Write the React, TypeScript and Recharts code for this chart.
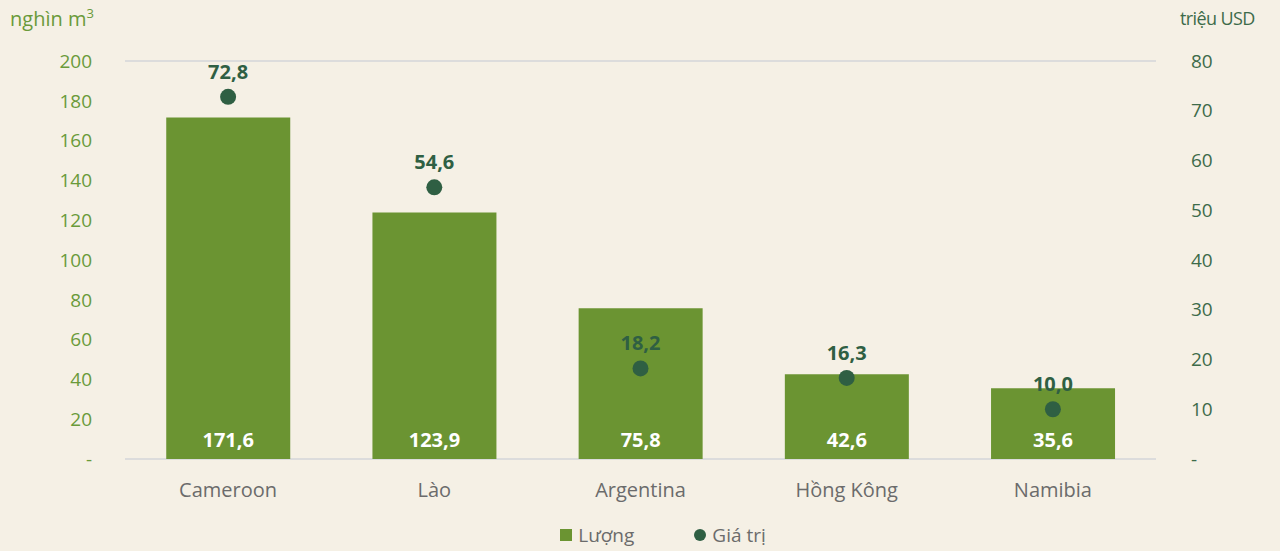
import React from 'react';
import { ComposedChart, Bar, Line, XAxis, YAxis, CartesianGrid, LabelList, Legend } from 'recharts';

const categories = ['Cameroon', 'Lào', 'Argentina', 'Hồng Kông', 'Namibia'];
const volume = [171.6, 123.9, 75.8, 42.6, 35.6];
const value = [72.8, 54.6, 18.2, 16.3, 10.0];
const leftTicks = [0, 20, 40, 60, 80, 100, 120, 140, 160, 180, 200];
const rightTicks = [0, 10, 20, 30, 40, 50, 60, 70, 80];

const data = categories.map((c, i) => ({ name: c, luong: volume[i], giatri: value[i] }));

const FONT = '"Open Sans", Lato, sans-serif';
const BAR = '#6b9432';
const DOT = '#2f5f43';
const fmt = (v: number) => v.toFixed(1).replace('.', ',');

const LegendContent = () => (
  <div style={{ position: 'relative', top: 7, display: 'flex', justifyContent: 'center', gap: 60, fontFamily: FONT, fontSize: 19, color: '#6b6b6b', marginLeft: 46 }}>
    <span style={{ display: 'flex', alignItems: 'center' }}>
      <span style={{ width: 12, height: 12, background: BAR, display: 'inline-block', marginRight: 6 }} />
      Lượng
    </span>
    <span style={{ display: 'flex', alignItems: 'center' }}>
      <span style={{ width: 12, height: 12, borderRadius: 6, background: DOT, display: 'inline-block', marginRight: 6 }} />
      Giá trị
    </span>
  </div>
);

export default function App() {
  return (
    <div style={{ position: 'fixed', top: 0, left: 0, width: 1280, height: 551, background: '#f5f0e5', overflow: 'hidden' }}>
      <div style={{ position: 'absolute', left: 10, top: 4, fontFamily: FONT, fontSize: 20, color: '#6a9a3a' }}>
        nghìn m<sup style={{ fontSize: 13 }}>3</sup>
      </div>
      <div style={{ position: 'absolute', left: 1180, top: 6, fontFamily: FONT, fontSize: 18, color: '#3d6b4a', letterSpacing: -0.6 }}>
        triệu USD
      </div>
      <ComposedChart width={1280} height={551} data={data} margin={{ top: 61, right: 0, bottom: 0, left: 0 }} barCategoryGap="20%">
        <CartesianGrid vertical={false} stroke="#dcdcdc" strokeWidth={2} />
        <XAxis dataKey="name" axisLine={false} tickLine={false} height={56} tickMargin={18}
          tick={{ fontFamily: FONT, fontSize: 20, fill: '#6b6b6b' }} />
        <YAxis yAxisId="l" domain={[0, 200]} ticks={leftTicks} width={125} axisLine={false} tickLine={false}
          tickMargin={27} tickFormatter={(v: number) => (v === 0 ? '-' : String(v))}
          tick={{ fontFamily: FONT, fontSize: 19, fill: '#6a9a3a' }} />
        <YAxis yAxisId="r" orientation="right" domain={[0, 80]} ticks={rightTicks} width={124} axisLine={false} tickLine={false}
          tickMargin={29} tickFormatter={(v: number) => (v === 0 ? '-' : String(v))}
          tick={{ fontFamily: FONT, fontSize: 19, fill: '#3d6b4a', textAnchor: 'start' }} />
        <Legend verticalAlign="bottom" height={36} content={<LegendContent />} />
        <Bar yAxisId="l" dataKey="luong" fill={BAR} isAnimationActive={false}>
          <LabelList dataKey="luong" position="insideBottom" offset={12} formatter={(v: number) => fmt(v)}
            style={{ fontFamily: FONT, fontSize: 20, fontWeight: 700, fill: '#ffffff' }} />
        </Bar>
        <Line yAxisId="r" dataKey="giatri" stroke="none" isAnimationActive={false}
          dot={{ r: 8, fill: DOT, stroke: 'none' }} activeDot={false}>
          <LabelList dataKey="giatri" position="top" offset={18} formatter={(v: number) => fmt(v)}
            style={{ fontFamily: FONT, fontSize: 20, fontWeight: 700, fill: DOT }} />
        </Line>
      </ComposedChart>
    </div>
  );
}
